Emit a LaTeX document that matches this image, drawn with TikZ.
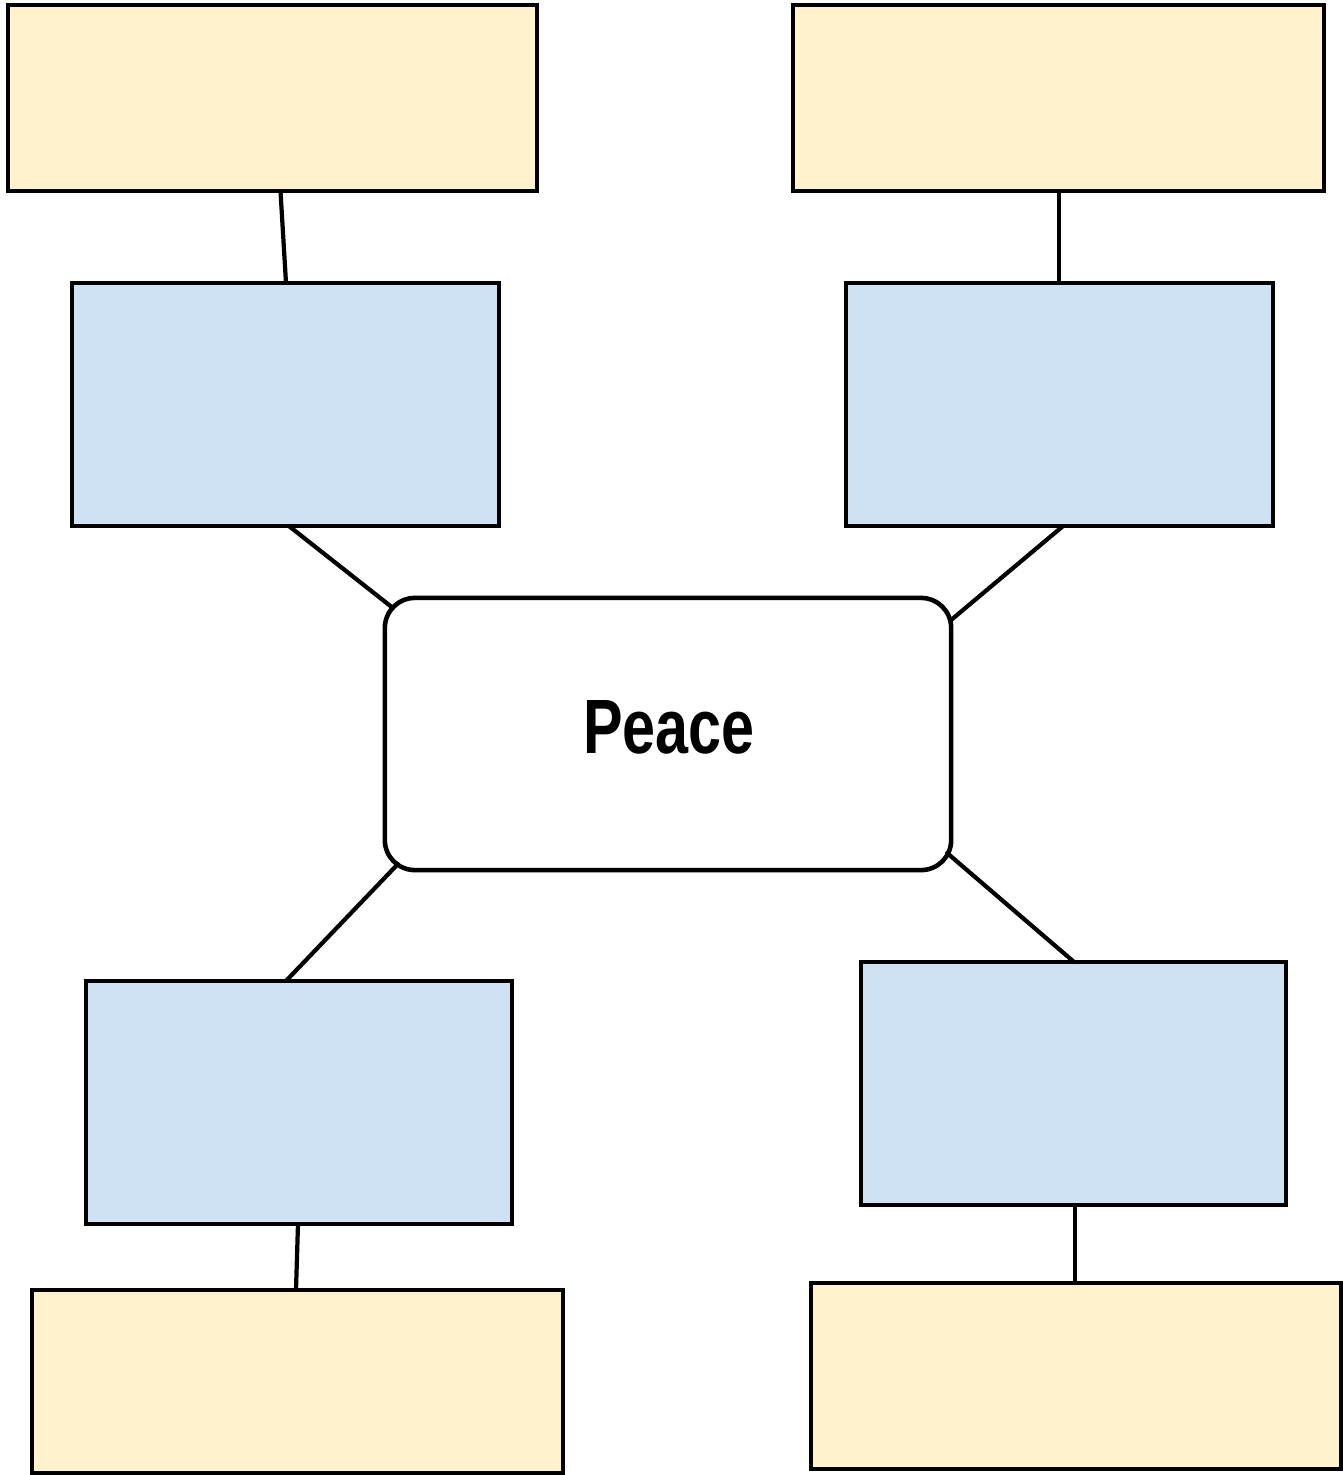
\documentclass[tikz,border=0pt]{standalone}
\usepackage{fontspec}
\setmainfont{Liberation Sans}
\usetikzlibrary{calc}
\definecolor{ylw}{HTML}{FFF2CC}
\definecolor{blu}{HTML}{CFE2F3}
\tikzset{
  box/.style={draw=black, line width=1.3pt, inner sep=0pt, outer sep=0pt},
  ybox/.style={box, fill=ylw},
  bbox/.style={box, fill=blu},
  link/.style={line width=1.2pt, line cap=round}
}
\begin{document}
\begin{tikzpicture}[x=0.01cm,y=-0.01cm]
\useasboundingbox (0,0) rectangle (1343,1475);
% yellow boxes
\node[ybox, minimum width=5.29cm, minimum height=1.86cm] (y1) at (272.5,98) {};
\node[ybox, minimum width=5.31cm, minimum height=1.86cm] (y2) at (1058.5,98) {};
\node[ybox, minimum width=5.31cm, minimum height=1.83cm] (y3) at (297.5,1381.5) {};
\node[ybox, minimum width=5.30cm, minimum height=1.86cm] (y4) at (1076,1376) {};
% blue boxes
\node[bbox, minimum width=4.27cm, minimum height=2.43cm] (b1) at (285.5,404.5) {};
\node[bbox, minimum width=4.27cm, minimum height=2.43cm] (b2) at (1059.5,404.5) {};
\node[bbox, minimum width=4.26cm, minimum height=2.43cm] (b3) at (299,1102.5) {};
\node[bbox, minimum width=4.25cm, minimum height=2.43cm] (b4) at (1073.5,1083.5) {};
% center
\node[box, fill=white, rounded corners=0.3cm, minimum width=5.66cm, minimum height=2.72cm] (c) at (668,734) {};
\node[font=\bfseries\fontsize{21.9pt}{24pt}\selectfont, inner sep=0pt] (t) at (669,727.5) {\scalebox{0.77}[1]{Peace}};
% connectors
\draw[link] ($(y1.south)+(8,0)$) -- ($(b1.north)+(0.5,0)$);
\draw[link] ($(y2.south)+(0.5,0)$) -- ($(b2.north)+(-0.5,0)$);
\draw[link] ($(b1.south)+(3.5,0)$) -- ($(c.north west)+(8,10)$);
\draw[link] ($(b2.south)+(3.5,0)$) -- ($(c.north east)+(0,22)$);
\draw[link] ($(c.south west)+(13,-6)$) -- ($(b3.north)+(-13,0)$);
\draw[link] ($(c.south east)+(-4,-17)$) -- ($(b4.north)+(0.5,0)$);
\draw[link] ($(b3.south)+(-1,0)$) -- ($(y3.north)+(-1.5,0)$);
\draw[link] ($(b4.south)+(1.5,0)$) -- ($(y4.north)+(-1,0)$);
\end{tikzpicture}
\end{document}
